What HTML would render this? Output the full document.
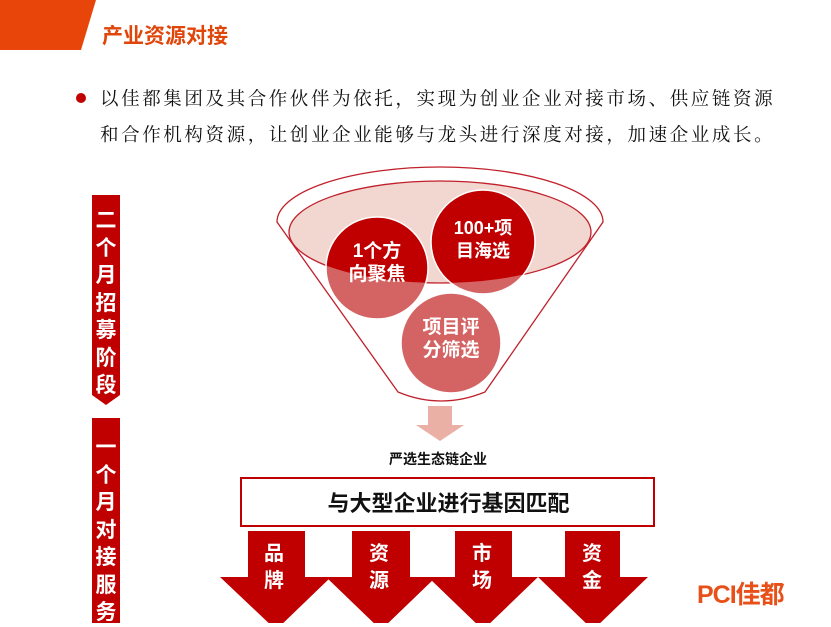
<!DOCTYPE html>
<html><head><meta charset="utf-8"><style>
body{margin:0;width:831px;height:623px;background:#fff;position:relative;overflow:hidden;font-family:"Liberation Sans","Noto Sans CJK SC",sans-serif}
.t{position:absolute;white-space:nowrap}
</style></head><body>
<svg width="831" height="623" style="position:absolute;left:0;top:0">
<defs><clipPath id="ie"><ellipse cx="440" cy="232" rx="151" ry="51"/></clipPath></defs>
<polygon points="0,0 96,0 81,50 0,50" fill="#e8450a"/>
<circle cx="81" cy="98" r="5" fill="#c00000"/>
<polygon points="92,195 120,195 120,395 106,405 92,395" fill="#c00000"/>
<polygon points="92,418 120,418 120,623 92,623" fill="#c00000"/>
<path d="M277,222 A163,55 0 0 1 603,222 L485,392 Q441,410 398,392 Z" fill="#fff" stroke="#c0202a" stroke-width="1.3"/>
<ellipse cx="440" cy="232" rx="151" ry="51" fill="#f2d6d0" stroke="#c0202a" stroke-width="1.3"/>
<g fill="#d46464"><circle cx="377" cy="268" r="51"/><circle cx="483" cy="242" r="52"/><circle cx="451" cy="343" r="50"/></g>
<g fill="#c00000" clip-path="url(#ie)"><circle cx="377" cy="268" r="51"/><circle cx="483" cy="242" r="52"/></g>
<g fill="none" stroke="#fff" stroke-width="1.5"><circle cx="377" cy="268" r="51"/><circle cx="483" cy="242" r="52"/><circle cx="451" cy="343" r="50"/></g>
<polygon points="428,406 452,406 452,425 464,425 440,441 416,425 428,425" fill="#eab0a6"/>
<rect x="241" y="478" width="413" height="48" fill="#fff" stroke="#c00000" stroke-width="2"/>
<g fill="#c00000">
<polygon points="248,531 305,531 305,577 331,577 276,630 220,577 248,577"/>
<polygon points="352,531 410,531 410,577 436,577 381,630 326,577 352,577"/>
<polygon points="455,531 512,531 512,577 538,577 483,630 428,577 455,577"/>
<polygon points="565,531 620,531 620,577 648,577 593,630 538,577 565,577"/>
</g>
</svg>
<div class="t" style="left:102px;top:20px;font-size:21px;font-weight:bold;color:#e0450a">产业资源对接</div>
<div class="t" style="left:100px;top:82px;font-size:18.5px;letter-spacing:2.6px;color:#111;font-family:'Liberation Serif','Noto Serif CJK SC',serif;line-height:36px">以佳都集团及其合作伙伴为依托，实现为创业企业对接市场、供应链资源<br>和合作机构资源，让创业企业能够与龙头进行深度对接，加速企业成长。</div>
<div class="t" style="left:94px;top:207px;width:24px;font-size:21px;font-weight:bold;color:#fff;line-height:27.5px;text-align:center">二<br>个<br>月<br>招<br>募<br>阶<br>段</div>
<div class="t" style="left:94px;top:434px;width:24px;font-size:21px;font-weight:bold;color:#fff;line-height:27.5px;text-align:center">一<br>个<br>月<br>对<br>接<br>服<br>务</div>
<div class="t" style="left:327px;top:240px;width:100px;text-align:center;font-size:19px;font-weight:bold;color:#fff;line-height:23px">1个方<br>向聚焦</div>
<div class="t" style="left:433px;top:217px;width:100px;text-align:center;font-size:18px;font-weight:bold;color:#fff;line-height:23px">100+项<br>目海选</div>
<div class="t" style="left:401px;top:316px;width:100px;text-align:center;font-size:19px;font-weight:bold;color:#fff;line-height:23px">项目评<br>分筛选</div>
<div class="t" style="left:340px;top:449px;width:196px;text-align:center;font-size:14px;font-weight:bold;color:#111">严选生态链企业</div>
<div class="t" style="left:241px;top:486px;width:415px;text-align:center;font-size:22px;font-weight:bold;color:#111">与大型企业进行基因匹配</div>
<div class="t" style="left:264px;top:541px;font-size:20px;font-weight:bold;color:#fff;line-height:27px">品<br>牌</div>
<div class="t" style="left:369px;top:541px;font-size:20px;font-weight:bold;color:#fff;line-height:27px">资<br>源</div>
<div class="t" style="left:472px;top:541px;font-size:20px;font-weight:bold;color:#fff;line-height:27px">市<br>场</div>
<div class="t" style="left:582px;top:541px;font-size:20px;font-weight:bold;color:#fff;line-height:27px">资<br>金</div>
<div class="t" style="left:697px;top:575px;font-size:25px;font-weight:bold;color:#e8501a;letter-spacing:-1px">PCI佳都</div>
</body></html>
